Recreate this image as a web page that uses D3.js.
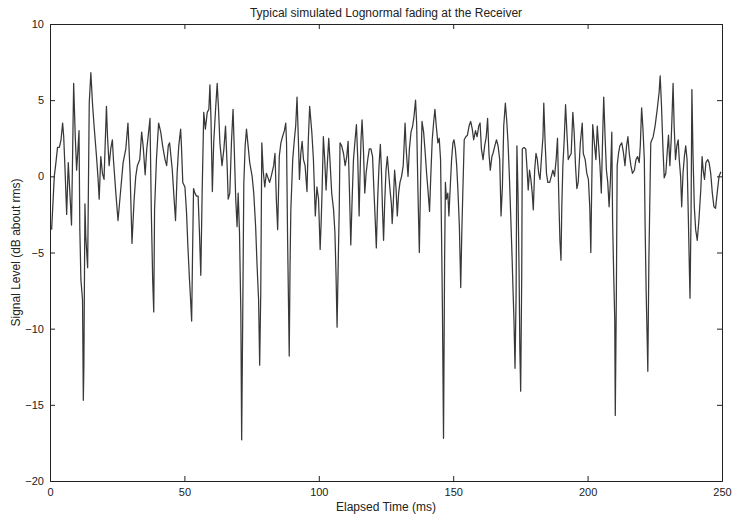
<!DOCTYPE html>
<html>
<head>
<meta charset="utf-8">
<script src="https://cdn.jsdelivr.net/npm/d3@7"></script>
<style>
body { margin: 0; background: #fff; }
text { font-family: "Liberation Sans", Arial, sans-serif; fill: #222; }
</style>
</head>
<body>
<script>
var times = [0.6,1.6,2.2,2.8,3.5,4.1,4.7,5.1,5.6,6.2,6.8,7.4,8.0,8.4,8.8,9.4,9.9,10.3,10.8,11.1,11.5,12.1,12.4,12.6,13.0,13.3,14.0,14.6,15.2,15.8,16.4,17.3,17.9,18.3,18.9,19.5,20.1,21.0,21.4,22.0,22.6,23.2,23.6,24.5,25.3,26.3,27.2,28.2,29.0,29.8,30.5,
  31.3,31.9,32.5,33.4,34.1,34.7,35.4,36.0,36.5,37.2,37.7,38.2,38.6,38.9,39.6,40.4,41.2,41.9,42.8,43.4,44.0,44.5,45.0,45.5,46.1,46.7,47.3,47.9,48.6,48.9,49.4,50.2,50.8,51.3,51.9,52.3,52.7,53.0,53.4,53.9,54.5,55.1,55.6,56.1,56.6,57.2,57.8,58.5,59.1,59.5,59.9,60.4,60.9,61.6,62.2,62.7,63.2,
  64.0,64.7,65.3,65.9,66.3,66.9,67.5,68.1,68.6,69.1,69.6,70.0,70.5,71.0,71.3,71.7,72.1,72.6,73.1,73.7,74.3,75.2,75.8,76.5,77.0,77.6,78.0,78.4,78.8,79.3,79.9,80.5,81.1,81.7,82.3,83.2,83.7,84.2,84.7,85.3,85.9,86.5,87.2,87.7,88.0,88.4,88.8,89.0,89.3,89.6,90.3,90.9,91.4,91.9,92.4,92.8,93.3,93.8,94.3,94.9,95.6,96.1,96.6,
  97.4,98.0,98.7,99.3,99.9,100.5,100.9,101.2,101.7,102.2,102.7,103.2,103.7,104.2,104.8,105.5,106.0,106.4,106.8,107.2,107.6,107.9,108.5,109.2,109.8,110.4,110.9,111.4,111.9,112.4,112.9,113.5,114.0,114.5,115.0,115.3,115.7,116.1,116.6,117.1,117.6,118.2,118.8,119.4,120.0,120.5,121.0,121.4,121.9,122.4,122.9,123.3,123.7,124.1,124.5,125.0,125.5,126.0,126.5,127.0,127.3,127.7,128.2,128.7,129.2,129.7,
  130.2,130.8,131.4,132.1,132.5,133.2,133.7,134.3,134.9,135.4,136.0,136.4,136.9,137.4,137.9,138.4,139.0,139.6,140.1,140.7,141.2,141.7,142.2,142.7,143.2,143.7,144.3,144.8,145.3,145.7,146.0,146.4,146.8,147.1,147.5,148.0,148.4,148.9,149.4,149.9,150.3,150.8,151.3,151.8,152.3,152.8,153.2,153.6,154.1,154.7,155.3,155.9,156.5,157.1,157.6,158.3,158.9,159.5,160.0,160.5,161.1,161.7,162.3,162.8,163.3,163.8,
  164.4,164.8,165.5,166.1,166.7,167.3,167.8,168.3,168.8,169.4,169.9,170.4,170.9,171.4,171.9,172.3,172.6,173.0,173.4,173.7,174.1,174.5,174.8,175.1,175.5,175.7,176.3,177.0,177.5,177.9,178.4,178.9,179.4,179.8,180.3,180.8,181.3,181.8,182.3,182.8,183.4,183.7,184.2,184.7,185.2,185.9,186.5,187.1,187.7,188.3,188.8,189.3,189.7,190.1,190.4,190.8,191.3,191.8,192.3,192.8,193.3,193.9,194.5,195.0,195.5,196.0,196.5,
  197.3,198.0,198.4,199.1,199.7,200.3,200.8,201.2,201.5,201.9,202.5,203.1,203.6,204.1,204.6,205.1,205.6,206.0,206.5,207.0,207.5,208.0,208.5,209.0,209.3,209.7,210.1,210.3,210.7,211.0,211.5,212.0,212.7,213.3,213.9,214.5,215.0,215.5,216.1,216.7,217.4,218.0,218.6,219.2,219.6,220.1,220.6,221.1,221.4,221.8,222.2,222.4,222.8,
  223.5,224.4,225.1,225.9,226.6,227.0,227.5,228.0,228.5,229.1,229.7,230.1,230.6,231.1,231.4,231.8,232.2,232.7,233.2,233.7,234.1,234.6,235.0,235.5,236.0,236.5,237.0,237.5,237.9,238.1,238.5,238.8,239.2,239.7,240.2,240.8,241.4,242.1,242.6,243.0,243.5,244.0,244.7,245.2,245.8,246.4,247.0,247.6,248.2,248.9,249.6];
var levels = [-3.5,0,0.9,1.9,1.9,2.4,3.5,2.6,0.4,-2.5,0.9,-1.1,-3.2,1.3,6.1,2.6,0.4,1.5,3.0,-3.5,-6.8,-8.1,-14.7,-12.5,-1.8,-3.9,-6.0,4.8,6.8,4.8,3.3,1.3,-0.2,-1.5,1.3,0.2,-0.2,4.6,2.6,0.7,1.8,2.4,1.1,-1.1,-2.9,-0.9,0.9,1.8,3.5,0.2,-4.4,
  -1.5,0,0.7,1.1,2.9,1.9,0.1,1.8,2.6,3.8,-2.4,-6.8,-8.9,-2.2,1.1,3.5,2.9,2.0,1.1,0.7,2.0,2.2,1.3,0.4,-1.3,-2.9,0.2,2.0,3.1,2.0,-0.4,-0.7,-2.4,-4.6,-6.8,-8.1,-9.5,-5.5,-0.8,-1.1,-1.3,-1.3,-3.7,-6.5,-1.1,4.2,3.1,4.2,4.4,6.0,3.7,-1.0,2.2,4.4,6.1,4.4,2.2,
  0.7,1.8,3.3,0.7,-1.5,-1.1,2.2,4.4,1.5,-1.5,-3.3,-1.1,-3.7,-9.0,-17.3,-9.2,-0.5,2.0,3.1,2.0,0.9,0,-1.1,-3.3,-5.7,-8.1,-12.4,-7.7,2.2,0.4,-0.7,0.2,-0.1,-0.4,0,0.7,1.5,-1.5,-3.5,1.3,2.2,2.6,3.0,3.5,2.2,-4.2,-9.2,-11.8,-5.9,-2.2,1.1,2.4,3.3,5.2,2.4,-0.2,1.5,2.3,1.1,0.7,-1.0,2.4,4.6,
  2.9,1.1,-2.6,-0.7,-1.5,-4.8,-2.9,-1.1,2.6,1.1,-0.9,0.9,2.5,0.9,-1.1,-2.2,-3.7,-6.4,-9.9,-5.9,-2.2,2.2,2.0,1.5,0.7,1.3,2.3,-0.9,-4.5,-1.5,1.1,2.4,3.4,1.1,-2.6,-0.2,2.4,3.7,1.8,-1.1,0.2,1.1,1.8,1.8,1.3,-0.9,-2.9,-4.7,-1.5,0.7,2.1,0.4,-2.2,-4.2,-1.8,0.4,1.3,0.2,-0.9,-1.8,-3.1,-1.8,0.4,-0.7,-2.6,-1.1,
  -0.4,0,0.7,3.5,1.8,0,1.8,2.9,3.3,3.9,5.0,3.5,-1.1,-5.0,0,3.6,2.9,1.5,0.2,-1.1,-2.3,0.2,2.4,3.5,4.4,3.3,2.2,2.5,1.1,-4.4,-8.8,-17.2,-5.5,-0.4,-1.5,-1.1,-2.6,-0.7,1.1,2.2,2.4,1.8,0.7,-1.1,-3.3,-7.3,-3.7,-0.9,2.4,2.6,2.7,3.3,3.6,3.1,2.4,3.0,2.6,3.3,3.5,1.8,1.1,2.0,2.6,3.8,1.5,0.4,
  1.3,1.5,2.0,2.4,2.0,1.1,-2.6,-0.7,3.3,4.8,3.7,2.2,0,-2.6,-5.3,-7.7,-9.4,-12.6,-7.7,2.0,-1.1,-6.1,-11.4,-14.1,-6.4,1.8,1.9,1.8,0.4,-0.9,0.4,-0.2,-1.1,-2.2,0.4,1.5,1.1,0.2,-0.2,1.1,2.6,4.8,2.2,0.2,-0.4,-0.4,0,0.4,0,1.1,2.5,-1.5,-4.2,-5.5,-2.0,0.7,2.4,4.7,2.9,1.1,1.3,1.5,4.2,2.9,0.7,-0.8,-0.4,
  2.2,3.5,1.5,1.1,0.2,-0.2,-2.0,-5.0,-1.1,3.4,2.2,1.1,3.3,2.0,0.7,-1.1,2.6,5.2,2.6,0.4,-0.4,-2.0,-0.2,2.9,-2.9,-6.4,-9.4,-15.7,-7.7,0.7,1.5,2.0,2.2,1.6,0.7,2.0,2.6,1.5,0.7,0.2,0.4,1.1,1.3,0.9,2.0,4.5,3.1,1.1,-3.3,-7.7,-11.0,-12.8,-5.5,
  2.2,2.6,3.3,4.4,5.5,6.6,4.6,2.0,-0.1,0.2,1.8,2.7,0.7,2.4,3.9,6.1,3.3,1.1,2.0,2.4,1.1,0,-2.0,0.2,1.3,2.0,1.1,-2.9,-6.4,-8.0,-2.2,5.7,1.5,-2.0,-3.5,-4.2,-2.9,-0.9,1.3,0.4,-0.2,0.9,1.1,0.9,0.2,-1.1,-2.0,-2.1,-1.1,0,0.3];
var xTicks = [0, 50, 100, 150, 200, 250];
var yTicks = [-20, -15, -10, -5, 0, 5, 10];

var w = 732, h = 516;
var plotLeft = 50, plotRight = 722, plotTop = 24, plotBottom = 481;
var tickLen = 5;

var svg = d3.select("body").append("svg").attr("width", w).attr("height", h);

var x = d3.scaleLinear().domain([0, 250]).range([plotLeft, plotRight]);
var y = d3.scaleLinear().domain([-20, 10]).range([plotBottom, plotTop]);

// signal
var pts = d3.zip(times, levels);
svg.append("path")
  .datum(pts)
  .attr("fill", "none")
  .attr("stroke", "#383838")
  .attr("stroke-width", 1.25)
  .attr("stroke-linejoin", "round")
  .attr("d", d3.line().x(function(d) { return x(d[0]); }).y(function(d) { return y(d[1]); }));

// box with inward ticks on all sides
svg.append("g").attr("transform", "translate(0," + plotBottom + ")")
  .call(d3.axisBottom(x).tickValues(xTicks).tickSize(-tickLen).tickPadding(7).tickFormat(d3.format("d")));
svg.append("g").attr("transform", "translate(0," + plotTop + ")")
  .call(d3.axisTop(x).tickValues(xTicks).tickSize(-tickLen).tickFormat(""));
svg.append("g").attr("transform", "translate(" + plotLeft + ",0)")
  .call(d3.axisLeft(y).tickValues(yTicks).tickSize(-tickLen).tickPadding(6).tickFormat(d3.format("d")));
svg.append("g").attr("transform", "translate(" + plotRight + ",0)")
  .call(d3.axisRight(y).tickValues(yTicks).tickSize(-tickLen).tickFormat(""));

svg.selectAll(".domain").attr("stroke", "#222");
svg.selectAll(".tick line").attr("stroke", "#222");
svg.selectAll(".tick text").style("font-size", "11px").attr("fill", "#222");

svg.append("text").attr("x", (plotLeft + plotRight) / 2).attr("y", 17)
  .attr("text-anchor", "middle").style("font-size", "12px")
  .text("Typical simulated Lognormal fading at the Receiver");
svg.append("text").attr("x", (plotLeft + plotRight) / 2).attr("y", 511)
  .attr("text-anchor", "middle").style("font-size", "12px")
  .text("Elapsed Time (ms)");
svg.append("text").attr("transform", "translate(20," + ((plotTop + plotBottom) / 2) + ") rotate(-90)")
  .attr("text-anchor", "middle").style("font-size", "12px")
  .text("Signal Level (dB about rms)");
</script>
</body>
</html>
